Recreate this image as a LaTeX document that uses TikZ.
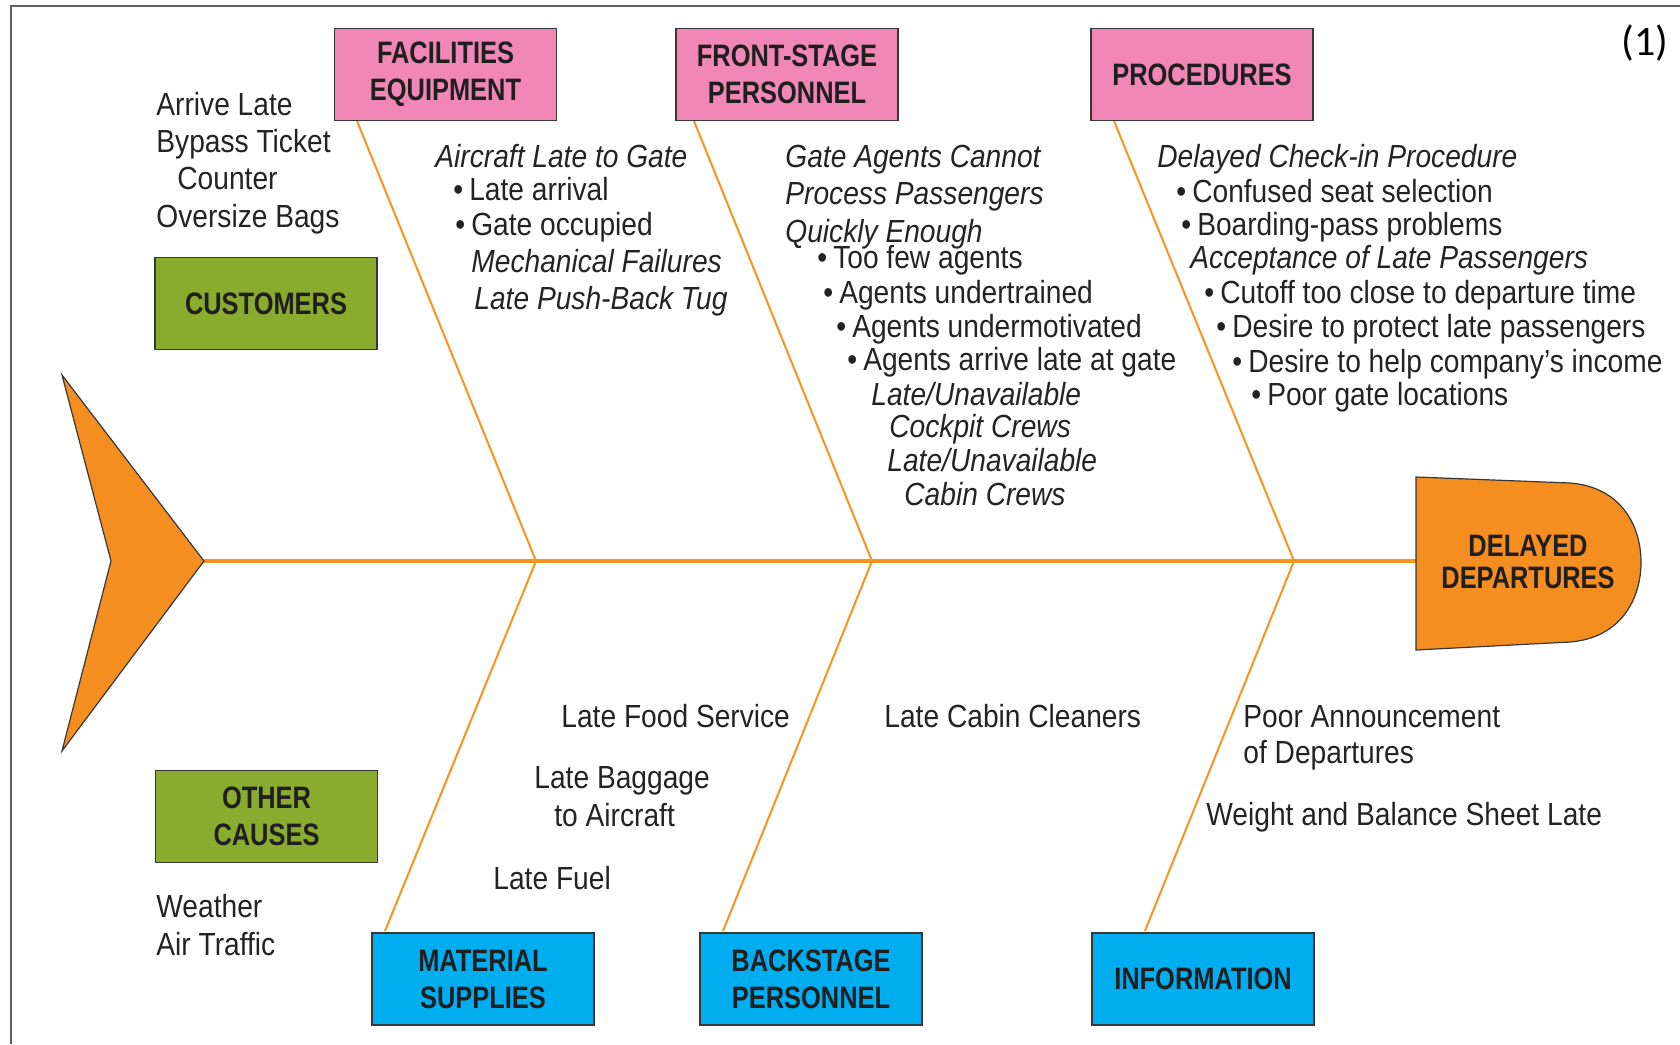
\documentclass[tikz,border=0pt]{standalone}
\usepackage{fontspec}
\setmainfont{Liberation Sans}[FakeStretch=0.88]
\newfontfamily\lblfont{Liberation Sans}[FakeStretch=0.82]
\newfontfamily\numfont{Carlito}
\definecolor{bone}{RGB}{247,148,30}
\definecolor{headfill}{RGB}{245,142,32}
\definecolor{pinkbox}{RGB}{241,135,183}
\definecolor{greenbox}{RGB}{137,171,46}
\definecolor{bluebox}{RGB}{0,174,239}
\definecolor{txtc}{RGB}{35,35,35}
\definecolor{edgec}{RGB}{55,55,55}
\begin{document}
\begin{tikzpicture}[x=0.5pt,y=-0.5pt,
  txt/.style={anchor=base west, inner sep=0pt, text=txtc, font=\fontsize{16}{19}\selectfont},
  itx/.style={anchor=base west, inner sep=0pt, text=txtc, font=\fontsize{16}{19}\selectfont\itshape},
  catbox/.style={draw=edgec, line width=0.8pt, inner sep=0pt, minimum width=111pt, minimum height=46pt,
     align=center, text=black!88, font=\lblfont\bfseries\fontsize{15.5}{18.5}\selectfont},
  pinkcat/.style={catbox, fill=pinkbox},
  greencat/.style={catbox, fill=greenbox},
  bluecat/.style={catbox, fill=bluebox},
  bonel/.style={draw=bone, line width=1pt},
  spinel/.style={draw=bone, line width=1.6pt},
  fishpart/.style={fill=headfill, draw=edgec, line width=0.6pt, line join=miter}
]
\useasboundingbox (0,0) rectangle (1680,1044);
% frame
\draw[edgec!80, line width=1pt] (11,1044) -- (11,6) -- (1680,6);

% coordinates
\coordinate (tailtip) at (204,561);
\coordinate (headL) at (1416,561);
\coordinate (j1) at (536,561);
\coordinate (j2) at (872,561);
\coordinate (j3) at (1294,561);
\coordinate (u1) at (357,121);
\coordinate (u2) at (694,121);
\coordinate (u3) at (1114,121);
\coordinate (l1) at (385,931);
\coordinate (l2) at (723,931);
\coordinate (l3) at (1145,931);

% bones
\draw[spinel] (tailtip) -- (headL);
\draw[bonel] (u1) -- (j1) -- (l1);
\draw[bonel] (u2) -- (j2) -- (l2);
\draw[bonel] (u3) -- (j3) -- (l3);

% tail and head
\draw[fishpart] (62,375) -- (tailtip) -- (62,751) -- (111,561) -- cycle;
\draw[fishpart] (1416,477) -- (1570,483) .. controls (1622,487) and (1641,527) .. (1641,562)
   .. controls (1641,600) and (1620,638) .. (1570,642) -- (1416,650) -- cycle;
\node[inner sep=0pt, align=center, text=black!88, font=\lblfont\bfseries\fontsize{15.5}{16}\selectfont]
   (head) at (1528,562) {DELAYED\\DEPARTURES};

% category boxes
\node[pinkcat] (fac) at (445.5,74.5) {FACILITIES\\EQUIPMENT};
\node[pinkcat] (front) at (787,74.5) {FRONT-STAGE\\PERSONNEL};
\node[pinkcat] (proc) at (1202,74.5) {PROCEDURES};
\node[greencat] (cust) at (266,303.5) {CUSTOMERS};
\node[greencat] (other) at (266.5,816.5) {OTHER\\CAUSES};
\node[bluecat] (mat) at (483,979) {MATERIAL\\SUPPLIES};
\node[bluecat] (back) at (811,979) {BACKSTAGE\\PERSONNEL};
\node[bluecat] (info) at (1203,979) {INFORMATION};

\node[inner sep=0pt, text=black, font=\numfont\fontsize{21}{24}\selectfont] (num) at (1645,43) {(1)};

% customers
\node[txt] (c1) at (156,115) {Arrive Late};
\node[txt] (c2) at (156,152) {Bypass Ticket};
\node[txt] (c3) at (177,189) {Counter};
\node[txt] (c4) at (156,227) {Oversize Bags};

% facilities
\node[itx] (f1) at (435,167) {Aircraft Late to Gate};
\node[txt] (f2) at (453,200) {•\hspace{3pt}Late arrival};
\node[txt] (f3) at (455,235) {•\hspace{3pt}Gate occupied};
\node[itx] (f4) at (471,272) {Mechanical Failures};
\node[itx] (f5) at (474,309) {Late Push-Back Tug};

% front-stage
\node[itx] (p1) at (785,167) {Gate Agents Cannot};
\node[itx] (p2) at (785,204) {Process Passengers};
\node[itx] (p3) at (785,242) {Quickly Enough};
\node[txt] (p4) at (817,268) {•\hspace{3pt}Too few agents};
\node[txt] (p5) at (823,303) {•\hspace{3pt}Agents undertrained};
\node[txt] (p6) at (836,337) {•\hspace{3pt}Agents undermotivated};
\node[txt] (p7) at (847,370) {•\hspace{3pt}Agents arrive late at gate};
\node[itx] (p8) at (871,405) {Late/Unavailable};
\node[itx] (p9) at (889,437) {Cockpit Crews};
\node[itx] (p10) at (887,471) {Late/Unavailable};
\node[itx] (p11) at (904,505) {Cabin Crews};

% procedures
\node[itx] (r1) at (1157,167) {Delayed Check-in Procedure};
\node[txt] (r2) at (1176,202) {•\hspace{3pt}Confused seat selection};
\node[txt] (r3) at (1181,235) {•\hspace{3pt}Boarding-pass problems};
\node[itx] (r4) at (1190,268) {Acceptance of Late Passengers};
\node[txt] (r5) at (1204,303) {•\hspace{3pt}Cutoff too close to departure time};
\node[txt] (r6) at (1216,337) {•\hspace{3pt}Desire to protect late passengers};
\node[txt] (r7) at (1232,372) {•\hspace{3pt}Desire to help company’s income};
\node[txt] (r8) at (1251,405) {•\hspace{3pt}Poor gate locations};

% bottom
\node[txt] (b1) at (561,727) {Late Food Service};
\node[txt] (b2) at (534,788) {Late Baggage};
\node[txt] (b3) at (554,826) {to Aircraft};
\node[txt] (b4) at (493,889) {Late Fuel};
\node[txt] (b5) at (884,727) {Late Cabin Cleaners};
\node[txt] (b6) at (1243,727) {Poor Announcement};
\node[txt] (b7) at (1243,763) {of Departures};
\node[txt] (b8) at (1206,825) {Weight and Balance Sheet Late};
\node[txt] (b9) at (156,917) {Weather};
\node[txt] (b10) at (156,955) {Air Traffic};
\end{tikzpicture}
\end{document}
